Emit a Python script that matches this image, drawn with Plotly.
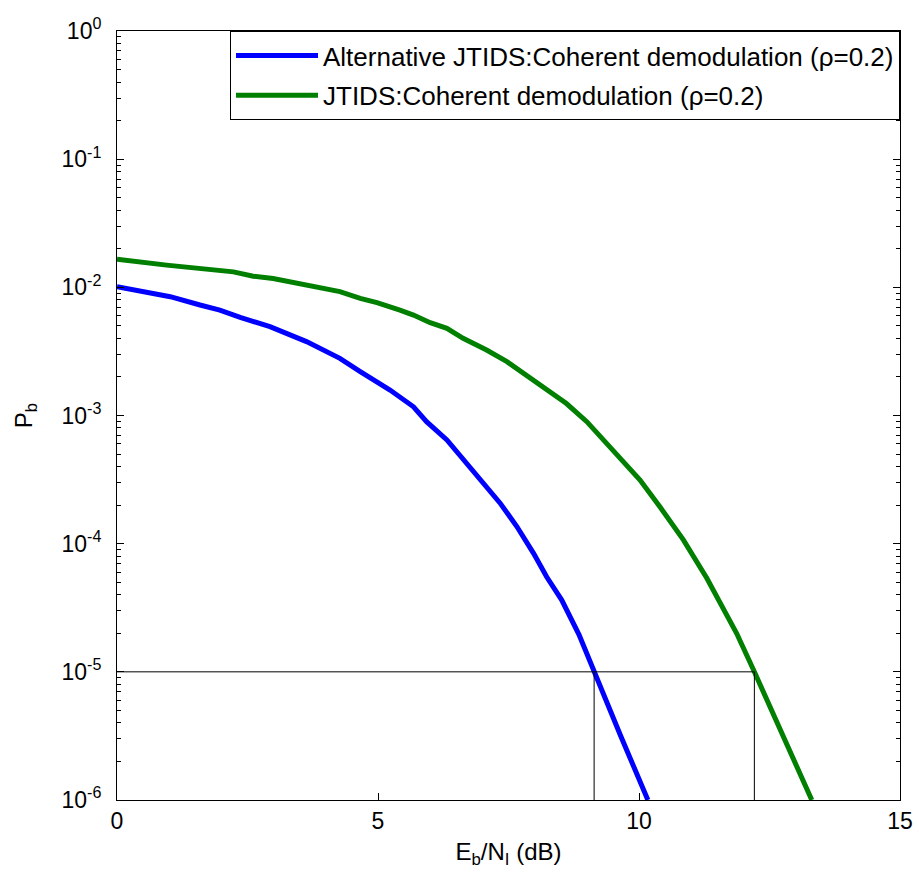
import plotly.graph_objects as go

# Eb/NI (dB) and bit error probability for the alternative JTIDS scheme
ebni_alt = [0, 0.63, 1.02, 1.59, 1.97, 2.36, 2.93, 3.63, 4.27, 4.66, 5.23, 5.68, 5.93,
            6.32, 6.70, 6.95, 7.34, 7.66, 7.98, 8.23, 8.52, 8.85, 9.14, 9.65, 10.17]
pb_alt = [1.01e-2, 8.97e-3, 8.45e-3, 7.28e-3, 6.65e-3, 5.83e-3, 4.93e-3, 3.77e-3,
          2.79e-3, 2.20e-3, 1.58e-3, 1.17e-3, 8.95e-4, 6.44e-4, 4.24e-4, 3.14e-4,
          2.07e-4, 1.36e-4, 8.41e-5, 5.52e-5, 3.63e-5, 1.95e-5, 1.0e-5, 3.16e-6, 1.0e-6]

# Eb/NI (dB) and bit error probability for standard JTIDS
ebni_jt = [0, 0.95, 2.23, 2.61, 2.99, 3.38, 4.27, 4.66, 4.98, 5.42, 5.68, 6.00, 6.32,
           6.63, 7.08, 7.47, 7.98, 8.61, 9.00, 9.51, 10.02, 10.40, 10.85, 11.30, 11.52,
           11.87, 12.21, 12.75, 13.31]
pb_jt = [1.66e-2, 1.49e-2, 1.32e-2, 1.22e-2, 1.17e-2, 1.09e-2, 9.25e-3, 8.20e-3,
         7.59e-3, 6.65e-3, 6.08e-3, 5.30e-3, 4.79e-3, 4.00e-3, 3.24e-3, 2.63e-3,
         1.89e-3, 1.24e-3, 8.95e-4, 5.38e-4, 3.14e-4, 1.94e-4, 1.07e-4, 5.37e-5,
         3.63e-5, 2.0e-5, 1.0e-5, 3.24e-6, 1.0e-6]

# Target error rate and the Eb/NI each scheme needs to reach it
pb_target = 1e-5
ebni_at_target = [9.14, 12.21]

names = ["Alternative JTIDS:Coherent demodulation (\u03c1=0.2)",
         "JTIDS:Coherent demodulation (\u03c1=0.2)"]

x_ticks = [0, 5, 10, 15]
y_exps = [0, -1, -2, -3, -4, -5, -6]
y_ticks = [10.0 ** e for e in y_exps]
y_ticktext = ["10<sup>%d</sup>" % e for e in y_exps]
y_minor = [m * 10.0 ** e for e in range(-6, 0) for m in range(2, 10)]

FONT = "Liberation Sans, Arial, Helvetica, sans-serif"

fig = go.Figure()
fig.add_trace(go.Scatter(x=ebni_alt, y=pb_alt, mode="lines", name=names[0],
                         legendgroup="alt",
                         line=dict(color="#0000ff", width=5)))
fig.add_trace(go.Scatter(x=ebni_jt, y=pb_jt, mode="lines", name=names[1],
                         legendgroup="jt",
                         line=dict(color="#007f00", width=5)))

# guide lines marking where each curve crosses the target rate
fig.add_trace(go.Scatter(x=[0, max(ebni_at_target)], y=[pb_target, pb_target],
                         mode="lines", line=dict(color="black", width=1),
                         showlegend=False, hoverinfo="skip"))
for xv in ebni_at_target:
    fig.add_trace(go.Scatter(x=[xv, xv], y=[min(y_ticks), pb_target], mode="lines",
                             line=dict(color="black", width=1),
                             showlegend=False, hoverinfo="skip"))

fig.update_layout(
    template="none",
    width=919, height=880,
    margin=dict(l=117, r=19, t=31, b=80, autoexpand=False),
    paper_bgcolor="white", plot_bgcolor="white",
    font=dict(family=FONT, size=22, color="black"),
    showlegend=True,
    legend=dict(x=1, y=1, xanchor="right", yanchor="top",
                bordercolor="black", borderwidth=1, bgcolor="white",
                font=dict(size=26), itemwidth=82, traceorder="grouped",
                tracegroupgap=3),
    xaxis=dict(range=[0, 15], tickvals=x_ticks, ticks="inside", ticklen=7,
               tickcolor="black", showline=True, linecolor="black", linewidth=1,
               mirror="ticks", showgrid=False, zeroline=False, automargin=False,
               tickfont=dict(size=23), ticklabelstandoff=0,
               title=dict(text="E<sub>b</sub>/N<sub>I</sub> (dB)",
                          font=dict(size=24), standoff=10)),
    yaxis=dict(type="log", range=[-6, 0], tickvals=y_ticks, ticktext=y_ticktext,
               ticks="inside", ticklen=7, tickcolor="black", showline=True,
               linecolor="black", linewidth=1, mirror="ticks", showgrid=False,
               zeroline=False, automargin=False, tickfont=dict(size=23),
               ticklabelstandoff=10,
               minor=dict(tickvals=y_minor, ticks="inside", ticklen=4,
                          tickcolor="black", showgrid=False),
               title=dict(text="P<sub>b</sub>", font=dict(size=24), standoff=22)),
)

fig.write_html("out.html")
